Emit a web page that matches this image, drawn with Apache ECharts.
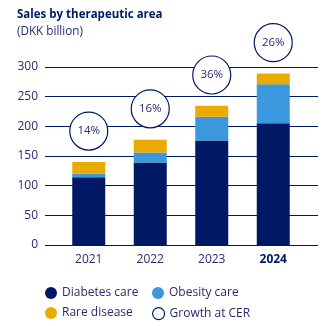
<!DOCTYPE html>
<html>
<head>
<meta charset="utf-8">
<script src="https://cdn.jsdelivr.net/npm/echarts@6/dist/echarts.min.js"></script>
<style>html,body{margin:0;padding:0;background:#fff}#c{width:328px;height:326px}</style>
</head>
<body>
<div id="c"></div>
<script>
var years = ['2021', '2022', '2023', '2024'];
var diabetes = [114, 139, 176, 205];
var obesity = [6.5, 17, 40, 66];
var rare = [19.5, 21.5, 18.5, 18];
var growth = ['14%', '16%', '36%', '26%'];
var yTicks = [0, 50, 100, 150, 200, 250, 300];

var NAVY = '#001965';
var TXT = '#2b2a6e';
var FONT = '"Open Sans", "Noto Sans", sans-serif';

var totals = years.map(function (y, i) { return diabetes[i] + obesity[i] + rare[i]; });
var growthPts = years.map(function (y, i) { return [y, totals[i] + 52]; });

var chart = echarts.init(document.getElementById('c'), null, {renderer: 'canvas'});
var gridTop = 67, gridH = 178;
chart.setOption({
  animation: false,
  textStyle: {fontFamily: FONT},
  title: [
    {text: 'Sales by therapeutic area', left: 12, top: 4,
     textStyle: {fontSize: 11.5, fontWeight: 'bold', color: NAVY, fontFamily: FONT}},
    {text: '(DKK billion)', left: 12, top: 21,
     textStyle: {fontSize: 11.7, fontWeight: 'normal', color: TXT, fontFamily: FONT}}
  ],
  legend: [
    {left: 40, top: 282, icon: 'circle', itemWidth: 12, itemHeight: 12,
     data: ['Diabetes care'], textStyle: {fontSize: 12, color: TXT, fontFamily: FONT}},
    {left: 147, top: 282, icon: 'circle', itemWidth: 12, itemHeight: 12,
     data: ['Obesity care'], textStyle: {fontSize: 12, color: TXT, fontFamily: FONT}},
    {left: 40, top: 302, icon: 'circle', itemWidth: 12, itemHeight: 12,
     data: ['Rare disease'], textStyle: {fontSize: 12, color: TXT, fontFamily: FONT}},
    {left: 147, top: 302, icon: 'circle', itemWidth: 12, itemHeight: 12,
     data: [{name: 'Growth at CER', itemStyle: {color: '#fff', borderColor: NAVY, borderWidth: 1.2}}],
     textStyle: {fontSize: 12, color: TXT, fontFamily: FONT}}
  ],
  grid: [
    {left: 58, width: 246, top: gridTop, height: gridH},
    {left: 45, width: 273, top: gridTop, height: gridH}
  ],
  xAxis: [
    {type: 'category', gridIndex: 0, data: years,
     axisLine: {show: false}, axisTick: {show: false},
     axisLabel: {interval: 0, margin: 9, fontSize: 12, color: TXT, fontFamily: FONT,
       formatter: function (v) { return v === '2024' ? '{b|' + v + '}' : v; },
       rich: {b: {fontSize: 12, fontWeight: 'bold', color: NAVY, fontFamily: FONT}}}},
    {type: 'category', gridIndex: 1, data: years, show: false}
  ],
  yAxis: [
    {type: 'value', gridIndex: 0, min: 0, max: 300, interval: 50, show: false},
    {type: 'value', gridIndex: 1, min: 0, max: 300, interval: 50,
     axisLine: {show: false}, axisTick: {show: false},
     axisLabel: {margin: 7, fontSize: 12, color: TXT, fontFamily: FONT},
     splitLine: {lineStyle: {color: NAVY, width: 1.2}}}
  ],
  series: [
    {name: 'Diabetes care', type: 'bar', stack: 's', barWidth: 33, data: diabetes,
     itemStyle: {color: NAVY}, xAxisIndex: 0, yAxisIndex: 0, z: 3},
    {name: 'Obesity care', type: 'bar', stack: 's', barWidth: 33, data: obesity,
     itemStyle: {color: '#3b97de'}, xAxisIndex: 0, yAxisIndex: 0, z: 3},
    {name: 'Rare disease', type: 'bar', stack: 's', barWidth: 33, data: rare,
     itemStyle: {color: '#eaab00'}, xAxisIndex: 0, yAxisIndex: 0, z: 3},
    {name: 'Growth at CER', type: 'scatter', xAxisIndex: 0, yAxisIndex: 0, clip: false,
     symbol: 'circle', symbolSize: 38, data: growthPts, z: 4,
     itemStyle: {color: '#fff', borderColor: NAVY, borderWidth: 1.2, opacity: 1},
     label: {show: true, position: 'inside', fontSize: 11.5, fontWeight: 500, color: TXT, fontFamily: FONT,
       formatter: function (p) { return growth[p.dataIndex]; }}}
  ]
});
</script>
</body>
</html>
